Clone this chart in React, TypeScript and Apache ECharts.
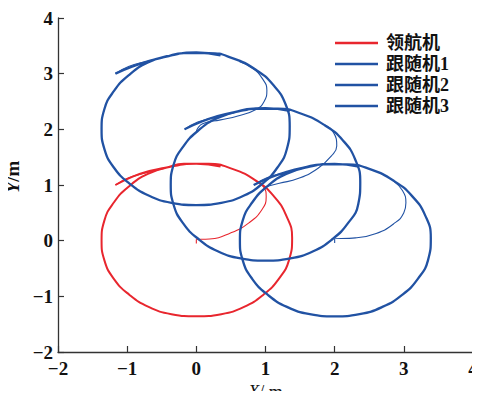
import React, { useEffect, useRef } from "react";
import * as echarts from "echarts";

const legendNames = ["领航机", "跟随机1", "跟随机2", "跟随机3"];
const xTicks = [-2, -1, 0, 1, 2, 3, 4];
const yTicks = [-2, -1, 0, 1, 2, 3, 4];

// Leader (红) — start segment + circle laps
const leaderMain: number[][] = [
  [-1.17, 1.0], [-0.92, 1.15], [-0.68, 1.25], [-0.45, 1.31],
  [-0.18, 1.38], [0.18, 1.38], [0.52, 1.29], [0.86, 1.08], [1.12, 0.8], [1.3, 0.45], [1.385, 0.05],
  [1.34, -0.35], [1.19, -0.69], [0.97, -0.97], [0.69, -1.19], [0.36, -1.32], [0, -1.36],
  [-0.36, -1.32], [-0.69, -1.19], [-0.97, -0.97], [-1.19, -0.69], [-1.33, -0.35], [-1.37, 0],
  [-1.33, 0.36], [-1.19, 0.69], [-0.98, 0.97], [-0.7, 1.2], [-0.36, 1.33], [0, 1.38], [0.35, 1.33],
];
const leaderThin: number[][] = [
  [0, -0.05], [0, 0.02], [0.19, 0.03], [0.48, 0.13], [0.76, 0.32], [0.95, 0.56], [1.01, 0.79], [0.97, 0.97], [0.85, 1.08],
];
const leaderBranch: number[][] = [[-1.17, 1.0], [-0.98, 1.13], [-0.72, 1.22], [-0.45, 1.3]];

// Follower 1
const f1Main: number[][] = [
  [-1.17, 3.0], [-0.92, 3.13], [-0.68, 3.23], [-0.45, 3.3],
  [-0.18, 3.37], [0.18, 3.37], [0.52, 3.28], [0.86, 3.07], [1.11, 2.8], [1.29, 2.45], [1.35, 2.05],
  [1.31, 1.65], [1.17, 1.31], [0.96, 1.03], [0.69, 0.81], [0.36, 0.68], [0, 0.64],
  [-0.36, 0.68], [-0.69, 0.81], [-0.97, 1.03], [-1.19, 1.31], [-1.33, 1.65], [-1.37, 2.0],
  [-1.33, 2.36], [-1.19, 2.69], [-0.98, 2.97], [-0.7, 3.2], [-0.36, 3.33], [0, 3.38], [0.35, 3.33],
];
const f1Thin: number[][] = [
  [0, 1.97], [0.09, 2.1], [0.35, 2.17], [0.6, 2.24], [0.87, 2.36], [0.98, 2.5], [1.02, 2.7], [0.95, 2.92], [0.81, 3.1], [0.62, 3.22],
];
const f1Branch: number[][] = [[-1.17, 3.0], [-0.98, 3.13], [-0.72, 3.22], [-0.45, 3.3]];

// Follower 2
const f2Main: number[][] = [
  [-0.17, 2.0], [0.08, 2.14], [0.32, 2.24], [0.55, 2.31],
  [0.82, 2.37], [1.18, 2.37], [1.52, 2.28], [1.86, 2.07], [2.12, 1.8], [2.3, 1.45], [2.37, 1.05],
  [2.34, 0.65], [2.19, 0.31], [1.97, 0.03], [1.69, -0.19], [1.36, -0.32], [1.0, -0.36],
  [0.64, -0.32], [0.31, -0.19], [0.03, 0.03], [-0.19, 0.31], [-0.33, 0.65], [-0.37, 1.0],
  [-0.33, 1.36], [-0.19, 1.69], [0.02, 1.97], [0.3, 2.2], [0.64, 2.33], [1.0, 2.38], [1.35, 2.33],
];
const f2Thin: number[][] = [
  [1.0, 0.97], [1.2, 1.03], [1.48, 1.12], [1.76, 1.3], [1.95, 1.52], [2.03, 1.7], [1.98, 1.95], [1.85, 2.08],
];
const f2Branch: number[][] = [[-0.17, 2.0], [0.02, 2.13], [0.28, 2.22], [0.55, 2.3]];

// Follower 3
const f3Main: number[][] = [
  [0.83, 1.0], [1.08, 1.14], [1.32, 1.24], [1.55, 1.31],
  [1.82, 1.37], [2.18, 1.37], [2.52, 1.28], [2.86, 1.07], [3.12, 0.8], [3.31, 0.45], [3.39, 0.05],
  [3.35, -0.35], [3.2, -0.69], [2.98, -0.97], [2.69, -1.19], [2.36, -1.32], [2.0, -1.36],
  [1.64, -1.32], [1.31, -1.19], [1.03, -0.97], [0.81, -0.69], [0.67, -0.35], [0.63, 0],
  [0.67, 0.36], [0.81, 0.69], [1.02, 0.97], [1.3, 1.2], [1.64, 1.33], [2.0, 1.38], [2.35, 1.33],
];
const f3Thin: number[][] = [
  [2.0, -0.04], [2.0, 0.03], [2.3, 0.05], [2.6, 0.13], [2.85, 0.3], [3.0, 0.5], [3.03, 0.68], [2.98, 0.9], [2.85, 1.07],
];
const f3Branch: number[][] = [[0.83, 1.0], [1.02, 1.13], [1.28, 1.22], [1.55, 1.3]];

const RED = "#e8262e";
const BLUE = "#2152a3";
const SERIF = "Liberation Serif";

const groups = [
  { name: legendNames[0], color: RED, main: leaderMain, extra: [leaderThin, leaderBranch], w: 2 },
  { name: legendNames[1], color: BLUE, main: f1Main, extra: [f1Thin, f1Branch], w: 2.3 },
  { name: legendNames[2], color: BLUE, main: f2Main, extra: [f2Thin, f2Branch], w: 2.3 },
  { name: legendNames[3], color: BLUE, main: f3Main, extra: [f3Thin, f3Branch], w: 2.3 },
];

const fmt = (v: number) => (v < 0 ? "\u2212" + Math.abs(v) : String(v));

export default function App() {
  const ref = useRef<HTMLDivElement>(null);
  useEffect(() => {
    if (!ref.current) return;
    const chart = echarts.init(ref.current, null, { renderer: "svg" });
    const series: any[] = [];
    groups.forEach((g) => {
      series.push({
        name: g.name,
        type: "line",
        data: g.main,
        smooth: 0.5,
        showSymbol: false,
        symbol: "none",
        lineStyle: { color: g.color, width: g.w },
        itemStyle: { color: g.color },
        z: 3,
      });
      g.extra.forEach((d, i) => {
        series.push({
          name: g.name + "_" + i,
          type: "line",
          data: d,
          smooth: 0.5,
          showSymbol: false,
          symbol: "none",
          lineStyle: { color: g.color, width: 1.1 },
          itemStyle: { color: g.color },
          z: 2,
        });
      });
    });
    const axisLabel = {
      fontFamily: SERIF,
      fontWeight: "bold" as const,
      fontSize: 19,
      color: "#111",
      formatter: fmt,
    };
    chart.setOption({
      animation: false,
      backgroundColor: "#fff",
      grid: { left: 58, right: 7, top: 18, bottom: 47, containLabel: false, outerBoundsMode: "none" },
      legend: {
        data: legendNames,
        orient: "vertical",
        left: 330,
        top: 28,
        icon: "rect",
        itemWidth: 43,
        itemHeight: 2.5,
        itemGap: 1,
        textStyle: {
          fontFamily: "Liberation Serif, Noto Sans CJK SC",
          fontWeight: "bold",
          fontSize: 18,
          lineHeight: 20,
          color: "#111",
          padding: [0, 0, 0, 3],
        },
      },
      xAxis: {
        type: "value",
        min: xTicks[0],
        max: xTicks[xTicks.length - 1],
        interval: 1,
        name: "{i|X}/ m",
        nameLocation: "middle",
        nameGap: 21,
        nameTextStyle: {
          fontFamily: SERIF,
          fontSize: 18,
          lineHeight: 18,
          color: "#111",
          rich: { i: { fontStyle: "italic", fontFamily: SERIF, fontSize: 18, lineHeight: 18, color: "#111" } },
        },
        axisLine: { onZero: false, lineStyle: { color: "#333", width: 1.3 } },
        axisTick: { inside: true, length: 6, lineStyle: { color: "#333", width: 1.2 } },
        axisLabel: { ...axisLabel, margin: 7 },
        splitLine: { show: false },
      },
      yAxis: {
        type: "value",
        min: yTicks[0],
        max: yTicks[yTicks.length - 1],
        interval: 1,
        name: "{i|Y}/m",
        nameLocation: "middle",
        nameGap: 34,
        nameTextStyle: {
          fontFamily: SERIF,
          fontSize: 19,
          fontWeight: "bold",
          color: "#111",
          padding: [0, 0, 0, 16],
          rich: { i: { fontStyle: "italic", fontWeight: "bold", fontFamily: SERIF, fontSize: 19, color: "#111" } },
        },
        axisLine: { onZero: false, lineStyle: { color: "#333", width: 1.3 } },
        axisTick: { inside: true, length: 6, lineStyle: { color: "#333", width: 1.2 } },
        axisLabel: { ...axisLabel, margin: 5 },
        splitLine: { show: false },
      },
      series,
    });
    return () => chart.dispose();
  }, []);
  return <div ref={ref} style={{ width: 480, height: 399, margin: -8 }} />;
}
